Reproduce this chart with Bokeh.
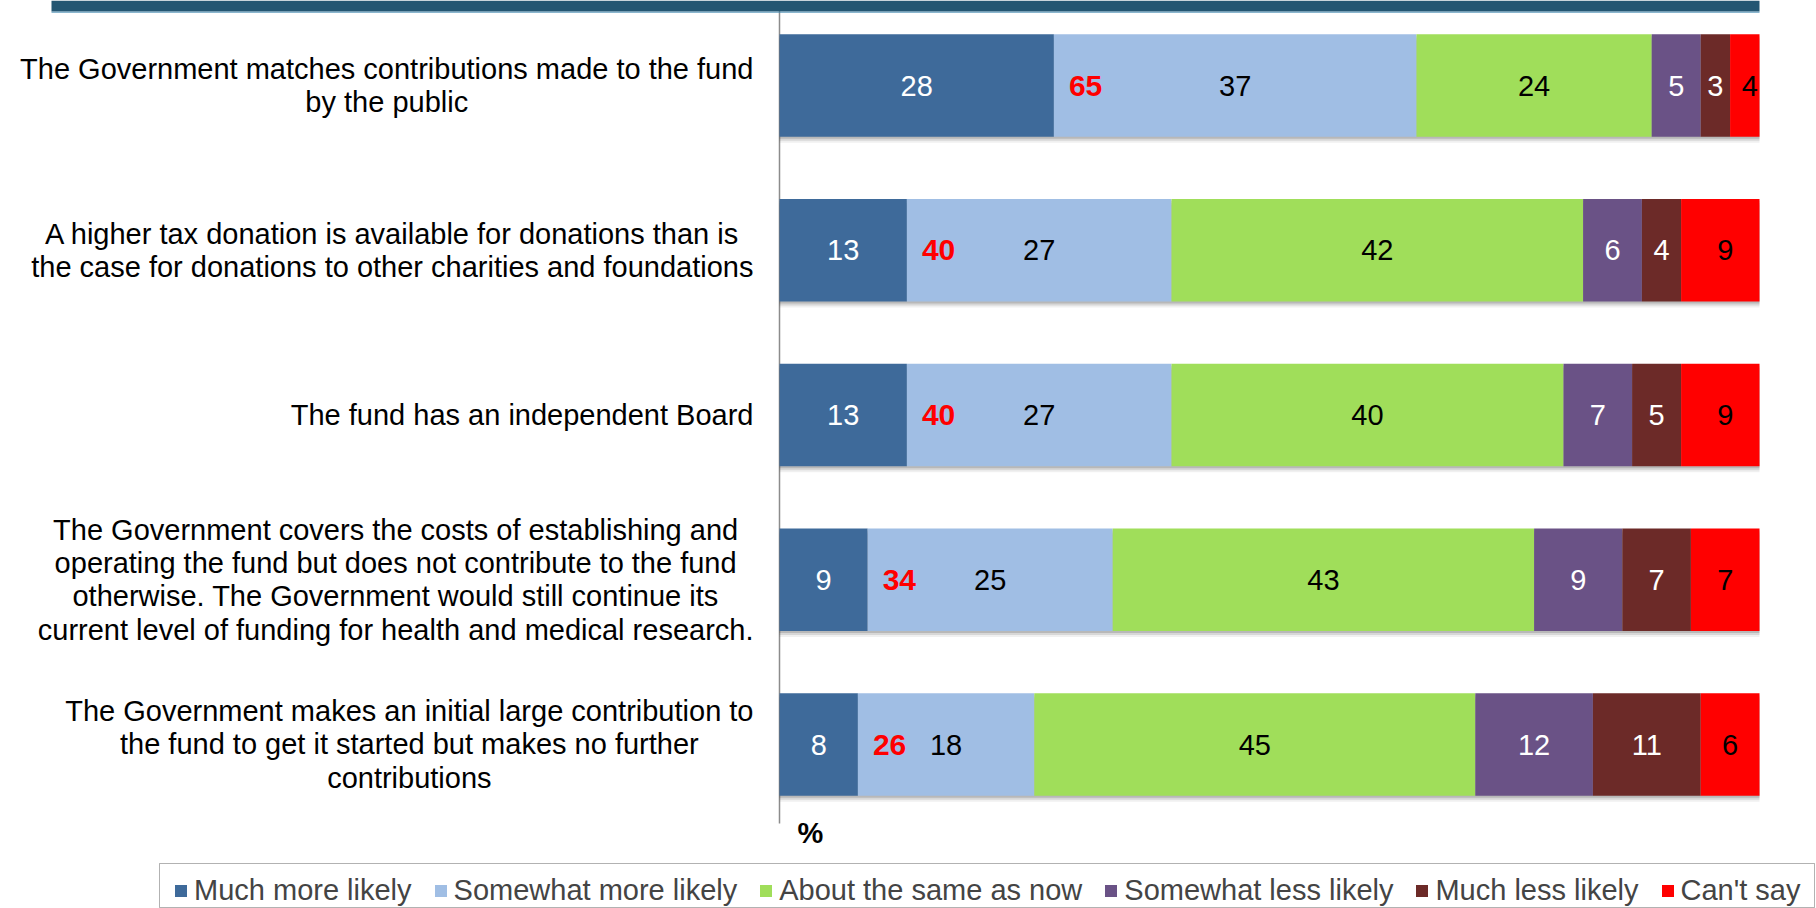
from bokeh.plotting import figure
from bokeh.models import (ColumnDataSource, Range1d, Label, LabelSet, Legend,
                          LegendItem, BoxAnnotation)
from bokeh.embed import file_html
from bokeh.resources import INLINE
from bokeh.core.properties import value

# ---------------- data ----------------
categories = [
    "The Government matches contributions made to the fund\nby the public",
    "A higher tax donation is available for donations than is\nthe case for donations to other charities and foundations",
    "The fund has an independent Board",
    "The Government covers the costs of establishing and\noperating the fund but does not contribute to the fund\notherwise. The Government would still continue its\ncurrent level of funding for health and medical research.",
    "The Government makes an initial large contribution to\nthe fund to get it started but makes no further\ncontributions",
]
series_names = ["Much more likely", "Somewhat more likely", "About the same as now",
                "Somewhat less likely", "Much less likely", "Can't say"]
much_more = [28, 13, 13, 9, 8]
somewhat_more = [37, 27, 27, 25, 18]
about_same = [24, 42, 40, 43, 45]
somewhat_less = [5, 6, 7, 9, 12]
much_less = [3, 4, 5, 7, 11]
cant_say = [4, 9, 9, 7, 6]
axis_unit = "%"
axis_max = 100

series = [much_more, somewhat_more, about_same, somewhat_less, much_less, cant_say]

# ---------------- styles / layout ----------------
colors = ["#3E6A9A", "#A0BEE4", "#A0DE5A", "#6A5286", "#6C2A28", "#FF0000"]
label_colors = ["white", "black", "black", "white", "white", "black"]
FONT = "Liberation Sans"
W, H = 1816, 908
x0_px, x100_px = 779, 1759          # canvas px of 0 % and 100 %
first_center, pitch = 85, 164.75    # canvas px of first bar centre, bar pitch
xpx = (x100_px - x0_px) / 100.0

def yv(px):
    return (px - first_center) / pitch

def xv(px):
    return (px - x0_px) / xpx

p = figure(width=W, height=H, x_range=Range1d(xv(0), xv(W)),
           y_range=Range1d(start=yv(H), end=yv(0)),
           min_border=0, toolbar_location=None, output_backend="svg",
           outline_line_color=None)
p.xaxis.visible = False
p.yaxis.visible = False
p.xgrid.visible = False
p.ygrid.visible = False

ys = list(range(len(categories)))
bar_h = 0.622

# header band
p.add_layout(BoxAnnotation(left=xv(51), right=axis_max, top=yv(0), bottom=yv(11),
                           fill_color="#245672", fill_alpha=1.0, line_color=None))
p.add_layout(BoxAnnotation(left=xv(51), right=axis_max, top=yv(11), bottom=yv(12.5),
                           fill_color="#3C86AE", fill_alpha=0.6, line_color=None))

# value axis line (category axis at 0 %)
p.segment(x0=0, y0=yv(3), x1=0, y1=yv(823), line_color="#8C8C8C", line_width=1.5)

# shadows
for off, alpha in ((6, 0.06), (4, 0.10), (2, 0.14)):
    p.hbar(y=[y + off / pitch for y in ys], left=0, right=axis_max, height=bar_h,
           fill_color="#000000", fill_alpha=alpha, line_color=None)

# stacked bars (clipped at the axis maximum, as in the source chart)
renderers = []
lefts = [0] * len(ys)
lab_x, lab_y, lab_t, lab_c = [], [], [], []
for k, vals in enumerate(series):
    rights = [l + v for l, v in zip(lefts, vals)]
    src = ColumnDataSource(dict(y=ys, left=lefts, right=[min(r, axis_max) for r in rights]))
    r = p.hbar(y="y", left="left", right="right", height=bar_h, source=src,
               fill_color=colors[k], line_color=None)
    renderers.append(r)
    for i in ys:
        lab_x.append((lefts[i] + rights[i]) / 2.0)
        lab_y.append(ys[i])
        lab_t.append(str(vals[i]))
        lab_c.append(label_colors[k])
    lefts = rights

val_src = ColumnDataSource(dict(x=lab_x, y=lab_y, t=lab_t, c=lab_c))
p.add_layout(LabelSet(x="x", y="y", text="t", source=val_src, text_color="c",
                      text_align="center", text_baseline="middle",
                      text_font=value(FONT), text_font_size="29px"))

# red totals (much + somewhat more likely)
tot_src = ColumnDataSource(dict(x=much_more, y=ys,
                                t=[str(a + b) for a, b in zip(much_more, somewhat_more)]))
p.add_layout(LabelSet(x="x", y="y", text="t", source=tot_src, x_offset=15,
                      text_color="#FF0000", text_align="left", text_baseline="middle",
                      text_font=value(FONT), text_font_size="30px",
                      text_font_style="bold"))

# category labels
for y, cat in zip(ys, categories):
    p.add_layout(Label(x=0, y=y, x_offset=-26, text=cat, text_align="center",
                       anchor="center_right", text_baseline="middle",
                       text_font=FONT, text_font_size="29px",
                       text_line_height=1.04, text_color="black"))

# % unit label
p.add_layout(Label(x=0, y=yv(832), x_offset=18, text=axis_unit,
                   text_align="left", text_baseline="middle",
                   text_font=FONT, text_font_size="29px",
                   text_font_style="bold", text_color="black"))

# legend frame + legend
p.add_layout(BoxAnnotation(left=xv(159), right=xv(1814), top=yv(863), bottom=yv(907),
                           fill_color="white", fill_alpha=1.0,
                           line_color="black", line_width=1))
legend = Legend(items=[LegendItem(label=n, renderers=[r]) for n, r in zip(series_names, renderers)],
                location=(173, 1),
                orientation="horizontal", glyph_width=15, glyph_height=15,
                label_standoff=6, spacing=21, padding=6, margin=0,
                label_text_font=FONT, label_text_font_size="29px",
                border_line_color=None, background_fill_alpha=0.0)
p.add_layout(legend)

open("out.html", "w").write(file_html(p, INLINE))
